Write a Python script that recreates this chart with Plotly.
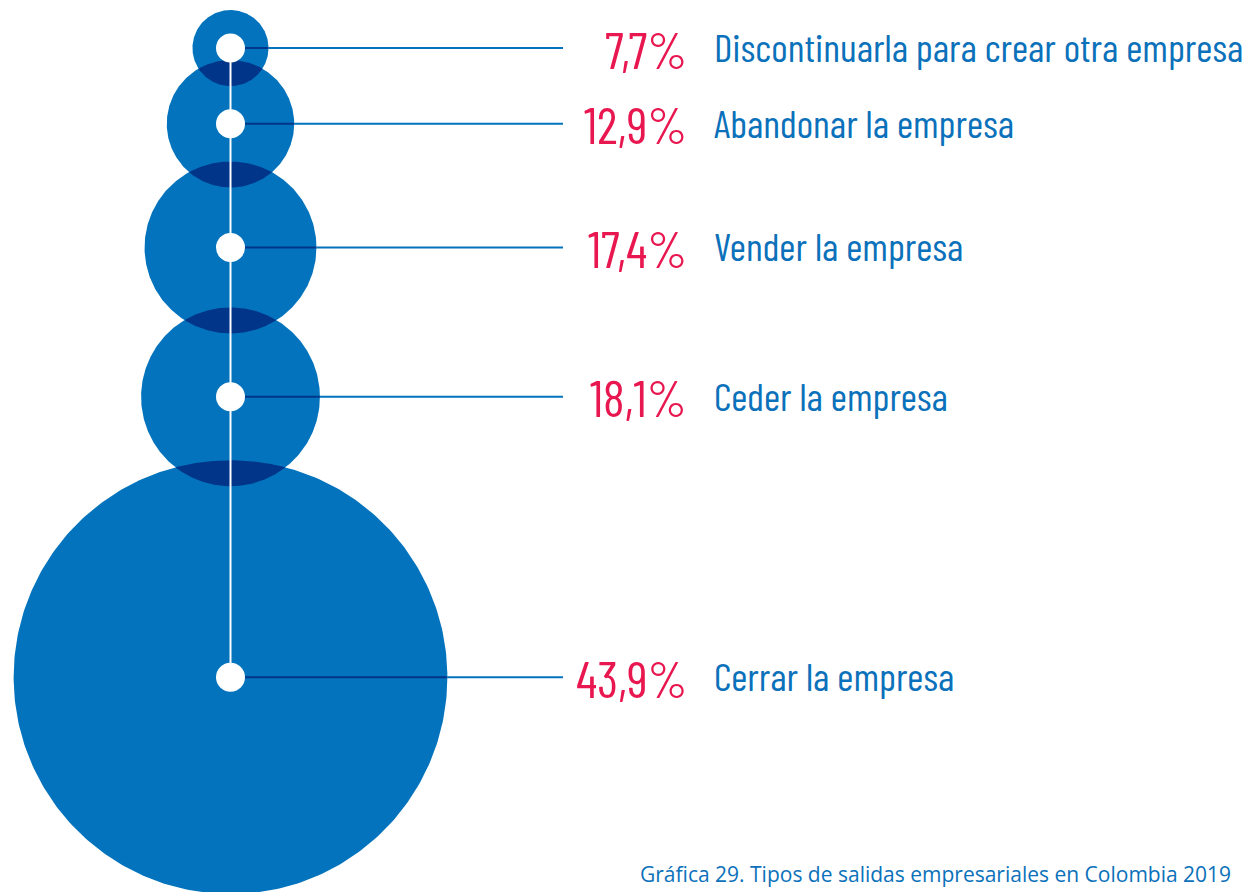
import numpy as np
import plotly.graph_objects as go

# ---------------- data ----------------
categorias = [
    "Discontinuarla para crear otra empresa",
    "Abandonar la empresa",
    "Vender la empresa",
    "Ceder la empresa",
    "Cerrar la empresa",
]
porcentajes = [7.7, 12.9, 17.4, 18.1, 43.9]
etiquetas_pct = ["7,7%", "12,9%", "17,4%", "18,1%", "43,9%"]
titulo = "Gráfica 29. Tipos de salidas empresariales en Colombia 2019"

# ---------------- layout parameters ----------------
W, H = 1255, 892
K = 4.94          # radius (px) per percentage point
CX = 230.5        # x of circle column
TOP = 10          # top of first circle
OVERLAP = 26      # vertical overlap between consecutive circles
LINE_END = 563
PCT_X = 689
LAB_X = 712

C_CIRCLE = "#0273bc"
C_DARK = "#003589"
C_PINK = "#e8174f"
C_LABEL = "#0b71ba"

radii = [K * v for v in porcentajes]
centers = []
y = TOP
for r in radii:
    centers.append(y + r)
    y = y + 2 * r - OVERLAP

fig = go.Figure()

# circles
t = np.linspace(0, 2 * np.pi, 361)
for r, cy in zip(radii, centers):
    fig.add_trace(go.Scatter(
        x=CX + r * np.cos(t), y=cy + r * np.sin(t),
        mode="lines", fill="toself", fillcolor=C_CIRCLE,
        line=dict(width=0, color=C_CIRCLE), hoverinfo="skip", showlegend=False))

# overlap lenses
for i in range(len(radii) - 1):
    r1, r2 = radii[i], radii[i + 1]
    c1, c2 = centers[i], centers[i + 1]
    d = c2 - c1
    a = (d * d + r1 * r1 - r2 * r2) / (2 * d)
    h = np.sqrt(max(r1 * r1 - a * a, 0))
    al = np.arctan2(a, h)
    th1 = np.linspace(al, np.pi - al, 120)
    be = np.arctan2(a - d, h)
    th2 = np.linspace(-np.pi - be, be, 120)
    xs = np.concatenate([CX + r1 * np.cos(th1), CX + r2 * np.cos(th2)])
    ys = np.concatenate([c1 + r1 * np.sin(th1), c2 + r2 * np.sin(th2)])
    fig.add_trace(go.Scatter(
        x=xs, y=ys, mode="lines", fill="toself", fillcolor=C_DARK,
        line=dict(width=0, color=C_DARK), hoverinfo="skip", showlegend=False))

# vertical white connector
fig.add_trace(go.Scatter(
    x=[CX, CX], y=[centers[0], centers[-1]], mode="lines",
    line=dict(color="white", width=2), hoverinfo="skip", showlegend=False))

# horizontal leader lines
for r, cy in zip(radii, centers):
    fig.add_trace(go.Scatter(
        x=[CX, CX + r], y=[cy, cy], mode="lines",
        line=dict(color=C_DARK, width=2), hoverinfo="skip", showlegend=False))
    fig.add_trace(go.Scatter(
        x=[CX + r, LINE_END], y=[cy, cy], mode="lines",
        line=dict(color=C_CIRCLE, width=2), hoverinfo="skip", showlegend=False))

# white center dots
fig.add_trace(go.Scatter(
    x=[CX] * len(centers), y=centers, mode="markers",
    marker=dict(color="white", size=29, line=dict(width=0)),
    hoverinfo="skip", showlegend=False))

COND = "Barlow Condensed, Roboto Condensed, sans-serif"
for cat, pct, cy in zip(categorias, etiquetas_pct, centers):
    fig.add_annotation(x=PCT_X, y=cy, text=pct, showarrow=False,
                       xanchor="right", yanchor="middle",
                       font=dict(family=COND, size=51, color=C_PINK))
    fig.add_annotation(x=LAB_X, y=cy - 2, text=cat, showarrow=False,
                       xanchor="left", yanchor="middle",
                       font=dict(family=COND, size=39.5, color=C_LABEL))

fig.add_annotation(x=638, y=874, text=titulo, showarrow=False,
                   xanchor="left", yanchor="middle",
                   font=dict(family="Open Sans, Noto Sans, sans-serif", size=21, color=C_LABEL))

fig.update_layout(
    width=W, height=H, margin=dict(l=0, r=0, t=0, b=0),
    paper_bgcolor="white", plot_bgcolor="white",
    xaxis=dict(range=[0, W], visible=False, fixedrange=True),
    yaxis=dict(range=[H, 0], visible=False, fixedrange=True),
    showlegend=False,
)

fig.write_html("out.html", config={"displayModeBar": False},
               post_script="document.body.style.margin='0px';document.body.style.overflow='hidden';")
